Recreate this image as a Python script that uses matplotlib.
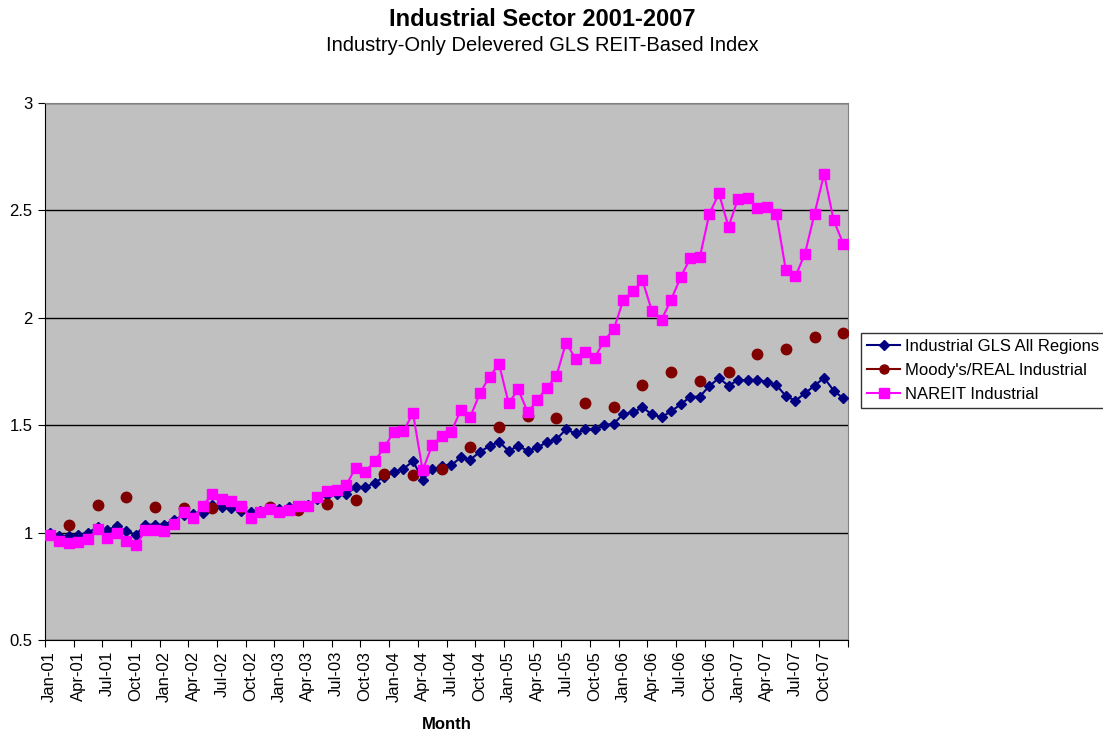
import numpy as np
import matplotlib
matplotlib.use("Agg")
import matplotlib.pyplot as plt
from matplotlib.lines import Line2D

plt.rcParams['font.family'] = ['Liberation Sans', 'DejaVu Sans']

# monthly index values, Jan-01 .. Dec-07
gls_all = [1.00, 0.985, 0.985, 0.987, 1.00, 1.025, 1.011, 1.03, 1.006, 0.99, 1.037, 1.037,
           1.037, 1.06, 1.08, 1.085, 1.09, 1.127, 1.12, 1.115, 1.10, 1.095, 1.10, 1.115,
           1.11, 1.12, 1.125, 1.13, 1.155, 1.175, 1.18, 1.18, 1.21, 1.21, 1.233, 1.26,
           1.283, 1.297, 1.333, 1.247, 1.294, 1.31, 1.314, 1.35, 1.34, 1.376, 1.403, 1.423,
           1.38, 1.404, 1.38, 1.397, 1.42, 1.435, 1.48, 1.462, 1.48, 1.48, 1.50, 1.507,
           1.553, 1.56, 1.583, 1.55, 1.537, 1.565, 1.597, 1.632, 1.633, 1.683, 1.719, 1.684,
           1.71, 1.71, 1.71, 1.703, 1.687, 1.636, 1.614, 1.649, 1.684, 1.721, 1.661, 1.625]

nareit = [0.99, 0.96, 0.95, 0.955, 0.97, 1.017, 0.975, 0.998, 0.96, 0.94, 1.01, 1.01,
          1.007, 1.04, 1.096, 1.07, 1.124, 1.18, 1.155, 1.147, 1.124, 1.07, 1.096, 1.11,
          1.096, 1.107, 1.124, 1.124, 1.166, 1.194, 1.20, 1.22, 1.303, 1.283, 1.333, 1.397,
          1.47, 1.474, 1.555, 1.29, 1.407, 1.45, 1.47, 1.571, 1.54, 1.649, 1.726, 1.784,
          1.602, 1.667, 1.56, 1.617, 1.675, 1.73, 1.884, 1.81, 1.842, 1.814, 1.893, 1.947,
          2.084, 2.123, 2.174, 2.03, 1.992, 2.084, 2.19, 2.277, 2.283, 2.484, 2.579, 2.423,
          2.555, 2.558, 2.512, 2.516, 2.484, 2.221, 2.193, 2.299, 2.485, 2.67, 2.454, 2.345]

# quarterly (Mar, Jun, Sep, Dec)
moodys_month = [2, 5, 8, 11, 14, 17, 20, 23, 26, 29, 32, 35, 38, 41,
                44, 47, 50, 53, 56, 59, 62, 65, 68, 71, 74, 77, 80, 83]
moodys = [1.035, 1.13, 1.166, 1.118, 1.115, 1.115, 1.12, 1.12, 1.104, 1.132, 1.154, 1.275,
          1.267, 1.294, 1.40, 1.49, 1.544, 1.532, 1.603, 1.583, 1.687, 1.75, 1.706, 1.75,
          1.832, 1.854, 1.91, 1.929]

tick_labels = ['Jan-01', 'Apr-01', 'Jul-01', 'Oct-01', 'Jan-02', 'Apr-02', 'Jul-02', 'Oct-02',
               'Jan-03', 'Apr-03', 'Jul-03', 'Oct-03', 'Jan-04', 'Apr-04', 'Jul-04', 'Oct-04',
               'Jan-05', 'Apr-05', 'Jul-05', 'Oct-05', 'Jan-06', 'Apr-06', 'Jul-06', 'Oct-06',
               'Jan-07', 'Apr-07', 'Jul-07', 'Oct-07']

x = np.arange(len(gls_all))

fig = plt.figure(figsize=(11.03, 7.38), dpi=100)
ax = fig.add_axes([45/1103, 1 - 640/738, 803/1103, 537/738])
ax.set_facecolor('#C0C0C0')

ax.plot(x, gls_all, color='#000080', lw=1.5, marker='D', ms=5, zorder=3)
ax.plot(moodys_month, moodys, ls='none', color='#800000', marker='o', ms=7.5, zorder=4)
ax.plot(x, nareit, color='#FF00FF', lw=1.5, marker='s', ms=7.5, zorder=5)

ax.set_ylim(0.5, 3)
ax.set_xlim(-0.5, len(x) - 0.5)
ax.set_yticks([0.5, 1, 1.5, 2, 2.5, 3])
ax.set_yticklabels(['0.5', '1', '1.5', '2', '2.5', '3'], fontsize=12)
ax.yaxis.grid(True, color='black', lw=1)
ax.set_axisbelow(True)

ax.set_xticks(np.arange(-0.5, len(x), 3))
ax.set_xticklabels([])
ax.set_xticks(np.arange(0, len(x), 3), minor=True)
ax.set_xticklabels(tick_labels, minor=True, rotation=90, fontsize=12)
ax.tick_params(axis='x', which='minor', length=0, pad=8)
ax.tick_params(axis='x', which='major', length=5, direction='out', color='black')
ax.tick_params(axis='y', length=5, direction='out', pad=4)

for s in ['top', 'right']:
    ax.spines[s].set_color('#808080')
for s in ['left', 'bottom']:
    ax.spines[s].set_color('black')

ax.set_xlabel('Month', fontsize=12, fontweight='bold', labelpad=11)

fig.text(0.492, 0.973, 'Industrial Sector 2001-2007', ha='center', va='center',
         fontsize=17, fontweight='bold')
fig.text(0.492, 0.939, 'Industry-Only Delevered GLS REIT-Based Index', ha='center',
         va='center', fontsize=14.5)

handles = [Line2D([], [], color='#000080', lw=1.5, marker='D', ms=5),
           Line2D([], [], color='#800000', lw=1.5, marker='o', ms=6.5),
           Line2D([], [], color='#FF00FF', lw=1.5, marker='s', ms=6.5)]
leg = fig.legend(handles, ['Industrial GLS All Regions', "Moody's/REAL Industrial",
                           'NAREIT Industrial'],
                 loc='upper left', bbox_to_anchor=(861/1103, 1 - 333/738),
                 fontsize=12, frameon=True, fancybox=False, handlelength=2.0,
                 borderpad=0.35, labelspacing=0.55, handletextpad=0.3, borderaxespad=0)
leg.get_frame().set_edgecolor('black')
leg.get_frame().set_linewidth(1)

fig.savefig('out.png', dpi=100)
